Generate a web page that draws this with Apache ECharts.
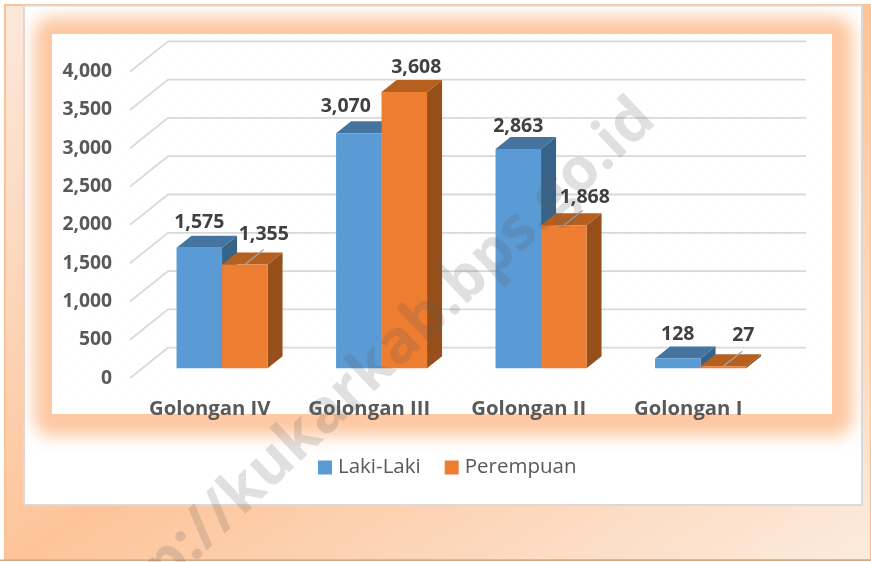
<!DOCTYPE html>
<html>
<head>
<meta charset="utf-8">
<style>html,body{margin:0;padding:0;background:#fff}#c{width:871px;height:562px}</style>
<script src="https://cdn.jsdelivr.net/npm/echarts@6/dist/echarts.min.js"></script>
</head>
<body>
<div id="c"></div>
<script>
// ---- data ----
const categories = ['Golongan IV', 'Golongan III', 'Golongan II', 'Golongan I'];
const lakiLaki = [1575, 3070, 2863, 128];
const perempuan = [1355, 3608, 1868, 27];
const yTicks = [0, 500, 1000, 1500, 2000, 2500, 3000, 3500, 4000];

// label nudges from each bar's top-centre: [dx, dy]
const lakiLabelNudge = [[0, -25], [-13, -27], [0, -23], [0, -24]];
const perempuanLabelNudge = [[19, -30], [12, -24], [21, -28], [20, -31]];
const perempuanLeader = [true, false, true, true];

// ---- 3D look ----
const FONT = '"Open Sans", "Noto Sans", sans-serif';
const BAR_W = 45.5, DEPTH_X = 15, DEPTH_Y = 12;   // bar width, bar depth
const SHIFT_X = 12.3, SHIFT_Y = -9.8;             // bars stand inside the floor
const WALL_X = 38, WALL_Y = 30.4;                 // wall depth
const fmt = v => Number(v).toLocaleString('en-US');

const dotCanvas = document.createElement('canvas');
dotCanvas.width = 16; dotCanvas.height = 16;
(function () {
  const g = dotCanvas.getContext('2d');
  g.fillStyle = '#fbf5dc';
  g.fillRect(3, 3, 1, 1);
  g.fillRect(11, 11, 1, 1);
})();

function barRenderer(cols, side, nudges, leaders) {
  return function (params, api) {
    const i = api.value(0), v = api.value(1);
    const top = api.coord([i, v]);
    const base = api.coord([i, 0]);
    const x0 = top[0] + SHIFT_X + side * BAR_W;
    const x1 = x0 + BAR_W;
    const yT = top[1] + SHIFT_Y;
    const yB = base[1] + SHIFT_Y;
    const n = nudges[i];
    const cx = (x0 + x1) / 2;
    const kids = [
      { type: 'polygon', shape: { points: [[x1, yT], [x1 + DEPTH_X, yT - DEPTH_Y], [x1 + DEPTH_X, yB - DEPTH_Y], [x1, yB]] }, style: { fill: cols.side } },
      { type: 'polygon', shape: { points: [[x0, yT], [x0 + DEPTH_X, yT - DEPTH_Y], [x1 + DEPTH_X, yT - DEPTH_Y], [x1, yT]] }, style: { fill: cols.top } },
      { type: 'rect', shape: { x: x0, y: yT, width: BAR_W, height: yB - yT }, style: { fill: cols.front } }
    ];
    if (leaders && leaders[i]) {
      kids.push({ type: 'line', shape: { x1: cx, y1: yT, x2: cx + 19, y2: yT - 15 }, style: { stroke: '#a6a6a6', lineWidth: 1.3 } });
    }
    kids.push({ type: 'text', style: { x: cx + n[0], y: yT + n[1], text: fmt(v), fill: '#404040', font: 'bold 19.5px ' + FONT, textAlign: 'center', textVerticalAlign: 'middle' } });
    return { type: 'group', children: kids };
  };
}

function wallRenderer(params, api) {
  const p = api.coord([0, api.value(0)]);
  const sys = params.coordSys;
  return {
    type: 'polyline',
    shape: { points: [[sys.x, p[1]], [sys.x + WALL_X, p[1] - WALL_Y], [sys.x + sys.width + WALL_X, p[1] - WALL_Y]] },
    style: { stroke: '#d9d9d9', lineWidth: 1.8, fill: null }
  };
}

const GLOW_OFF = 3000;
const chart = echarts.init(document.getElementById('c'), null, { renderer: 'canvas' });
chart.setOption({
  animation: false,
  backgroundColor: '#ffffff',
  textStyle: { fontFamily: FONT },
  graphic: [
    { type: 'rect', z: 0, shape: { x: 5, y: 5, width: 866, height: 555 },
      style: { stroke: '#fdc196', lineWidth: 2,
        fill: new echarts.graphic.LinearGradient(5, 5, 517, 799, [
          { offset: 0, color: '#fce9dc' }, { offset: 0.5, color: '#fdc499' }, { offset: 1, color: '#fcecdf' }
        ], true) } },
    { type: 'rect', z: 0, shape: { x: 0, y: 559.5, width: 871, height: 1.5 }, style: { fill: '#d9a680' } },
    { type: 'rect', z: 0, shape: { x: 24, y: 5.5, width: 838, height: 499.5 },
      style: { fill: '#ffffff', stroke: '#dcdad8', lineWidth: 2 } },
    // soft glow: only the shadow of an off-canvas rectangle lands on the page
    { type: 'rect', z: 0, shape: { x: 34 - GLOW_OFF, y: 17, width: 819, height: 419, r: 18 },
      style: { fill: '#fdc8a2', shadowBlur: 16, shadowColor: '#fdc8a2', shadowOffsetX: GLOW_OFF } },
    { type: 'rect', z: 0, shape: { x: 52, y: 34, width: 780, height: 380 }, style: { fill: '#ffffff' } },
    { type: 'rect', z: 0, shape: { x: 52, y: 34, width: 780, height: 380 },
      style: { fill: { image: dotCanvas, repeat: 'repeat' } } },
    { type: 'text', z: 100, x: 646, y: 110, rotation: 43.5 * Math.PI / 180,
      style: { text: 'http://kukarkab.bps.go.id', font: 'bold 60px ' + FONT, fill: 'rgba(90,90,90,0.19)',
        textAlign: 'right', textVerticalAlign: 'middle' } }
  ],
  grid: { left: 130, top: 71.7, width: 638, height: 306.4, containLabel: false },
  legend: {
    left: 318, top: 457, padding: 0, itemWidth: 14, itemHeight: 14, itemGap: 24, icon: 'rect',
    data: ['Laki-Laki', 'Perempuan'],
    textStyle: { fontFamily: FONT, fontSize: 20.5, color: '#595959', padding: [0, 0, 0, 1] }
  },
  xAxis: {
    type: 'category', data: categories,
    axisLine: { show: false }, axisTick: { show: false }, splitLine: { show: false },
    axisLabel: { color: '#595959', fontFamily: FONT, fontWeight: 'bold', fontSize: 20.3, margin: 21, interval: 0 }
  },
  yAxis: {
    type: 'value', min: 0, max: 4000, interval: 500,
    axisLine: { show: false }, axisTick: { show: false }, splitLine: { show: false },
    axisLabel: { color: '#595959', fontFamily: FONT, fontWeight: 'bold', fontSize: 19.3, margin: 18, formatter: fmt }
  },
  series: [
    { type: 'custom', name: 'wall', silent: true, z: 1, coordinateSystem: 'cartesian2d',
      data: yTicks.map(v => [v]), encode: { y: 0 }, renderItem: wallRenderer, clip: false },
    { type: 'custom', name: 'Laki-Laki', z: 3, coordinateSystem: 'cartesian2d', clip: false,
      itemStyle: { color: '#5B9BD5' },
      data: lakiLaki.map((v, i) => [i, v]), encode: { x: 0, y: 1 },
      renderItem: barRenderer({ front: '#5B9BD5', top: '#44749F', side: '#376389' }, -1, lakiLabelNudge, null) },
    { type: 'custom', name: 'Perempuan', z: 4, coordinateSystem: 'cartesian2d', clip: false,
      itemStyle: { color: '#ED7D31' },
      data: perempuan.map((v, i) => [i, v]), encode: { x: 0, y: 1 },
      renderItem: barRenderer({ front: '#ED7D31', top: '#B5601F', side: '#974F1C' }, 0, perempuanLabelNudge, perempuanLeader) }
  ]
});
</script>
</body>
</html>
